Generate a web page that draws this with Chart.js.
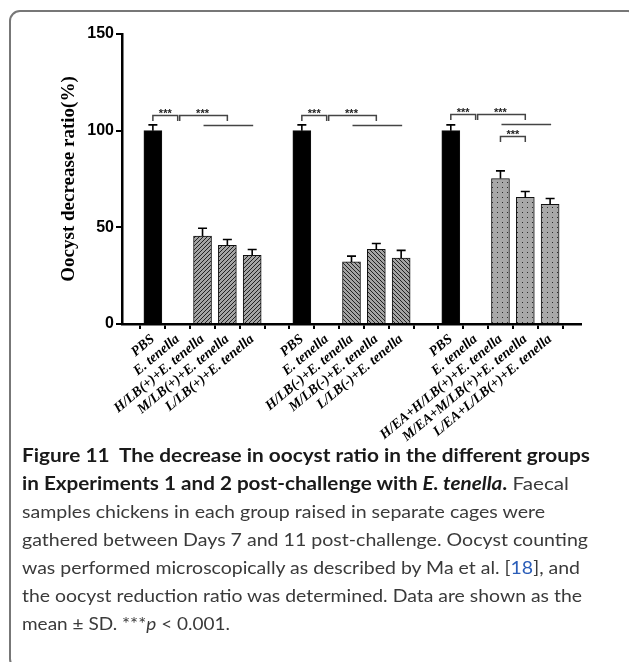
<!DOCTYPE html>
<html>
<head>
<meta charset="utf-8">
<script src="https://cdn.jsdelivr.net/npm/chart.js@4.4.1/dist/chart.umd.min.js"></script>
<style>
  html, body { margin: 0; padding: 0; background: #fff; width: 629px; height: 662px; overflow: hidden; }
  #frame { position: absolute; left: 9px; top: 10px; width: 630px; height: 660px; border: 2px solid #777; border-radius: 11px; box-sizing: border-box; }
  #c { position: absolute; left: 0; top: 0; }
  #caption { position: absolute; left: 22px; top: 441px; font-family: Lato, "Open Sans", sans-serif; font-size: 18px; line-height: 28px; color: #3a3a3a; white-space: nowrap; }
  #caption .ln { display: block; height: 28px; }
  #caption .ln > span { display: inline-block; transform-origin: 0 50%; }
  #caption b { color: #1a1a1a; font-weight: 700; }
  #caption .ref { color: #2a5db8; }
</style>
</head>
<body>
<div id="frame"></div>
<canvas id="c" width="629" height="452"></canvas>
<div id="caption">
<div class="ln" data-w="568"><span><b>Figure 11&nbsp; The decrease in oocyst ratio in the different groups</b></span></div>
<div class="ln" data-w="547"><span><b>in Experiments 1 and 2 post-challenge with <i>E. tenella</i>.</b> Faecal</span></div>
<div class="ln" data-w="523"><span>samples chickens in each group raised in separate cages were</span></div>
<div class="ln" data-w="566"><span>gathered between Days 7 and 11 post-challenge. Oocyst counting</span></div>
<div class="ln" data-w="558"><span>was performed microscopically as described by Ma et al. [<span class="ref">18</span>], and</span></div>
<div class="ln" data-w="560"><span>the oocyst reduction ratio was determined. Data are shown as the</span></div>
<div class="ln" data-w="208"><span>mean ± SD. ***<i>p</i> &lt; 0.001.</span></div>
</div>
<script>
// ---- data ----
const categories = ["PBS", "E. tenella", "H/LB(+)+E. tenella", "M/LB(+)+E. tenella", "L/LB(+)+E. tenella", "",
                    "PBS", "E. tenella", "H/LB(-)+E. tenella", "M/LB(-)+E. tenella", "L/LB(-)+E. tenella", "",
                    "PBS", "E. tenella", "H/EA+H/LB(+)+E. tenella", "M/EA+M/LB(+)+E. tenella", "L/EA+L/LB(+)+E. tenella"];
const means = [100, 0, 45.5, 40.7, 35.5, null, 100, 0, 32.1, 38.6, 34.1, null, 100, 0, 75.2, 65.5, 61.9];
const sds   = [3, 0, 4, 3, 3, null, 3, 0, 3, 3, 4, null, 3, 0, 4, 3, 3];
const fillKinds = ["solid", "none", "hatchA", "hatchA", "hatchA", "none",
                   "solid", "none", "hatchB", "hatchB", "hatchB", "none",
                   "solid", "none", "dots", "dots", "dots"];
const yTicks = [0, 50, 100, 150];
// significance brackets: [from category, to category, y value]
const brackets = [[0, 1, 108], [1, 3, 108], [6, 7, 108], [7, 9, 108], [12, 13, 108.5], [13, 15, 108.5], [14, 15, 97.4]];
// plain group lines: [from category, to category, y value]
const groupLines = [[2, 4, 103], [8, 10, 103], [14, 16, 103.5]];
const starText = "***";

// ---- patterns ----
function makePattern(kind) {
  const t = document.createElement('canvas');
  const s = kind === 'dots' ? 5 : 4;
  t.width = s; t.height = s;
  const g = t.getContext('2d');
  if (kind === 'dots') {
    g.fillStyle = '#a8a8a8'; g.fillRect(0, 0, s, s);
    g.fillStyle = '#2a2a2a'; g.fillRect(2, 2, 1, 1);
  } else {
    g.fillStyle = '#a4a4a4'; g.fillRect(0, 0, s, s);
    g.strokeStyle = '#222'; g.lineWidth = 1;
    g.beginPath();
    if (kind === 'hatchA') {
      g.moveTo(-1, s + 1); g.lineTo(s + 1, -1);
      g.moveTo(-1, 1); g.lineTo(1, -1);
      g.moveTo(s - 1, s + 1); g.lineTo(s + 1, s - 1);
    } else {
      g.moveTo(-1, -1); g.lineTo(s + 1, s + 1);
      g.moveTo(s - 1, -1); g.lineTo(s + 1, 1);
      g.moveTo(-1, s - 1); g.lineTo(1, s + 1);
    }
    g.stroke();
  }
  return document.getElementById('c').getContext('2d').createPattern(t, 'repeat');
}
const patterns = { hatchA: makePattern('hatchA'), hatchB: makePattern('hatchB'), dots: makePattern('dots') };
function fillFor(i) {
  const k = fillKinds[i];
  if (k === 'solid') return '#000';
  if (k === 'none') return 'rgba(0,0,0,0)';
  return patterns[k];
}

const barData = [];
means.forEach((m, i) => { if (m !== null) barData.push({ x: i, y: m }); });

// ---- annotation plugin ----
const annot = {
  id: 'annot',
  afterDatasetsDraw(chart) {
    const ctx = chart.ctx, xs = chart.scales.x, ys = chart.scales.y;
    ctx.save();
    // error bars
    ctx.strokeStyle = '#000'; ctx.lineWidth = 1.6;
    means.forEach((m, i) => {
      if (m === null || !sds[i]) return;
      const x = xs.getPixelForValue(i);
      const y0 = ys.getPixelForValue(m), y1 = ys.getPixelForValue(m + sds[i]);
      ctx.beginPath();
      ctx.moveTo(x, y0); ctx.lineTo(x, y1);
      ctx.moveTo(x - 4.5, y1); ctx.lineTo(x + 4.5, y1);
      ctx.stroke();
    });
    // brackets
    ctx.strokeStyle = '#444'; ctx.lineWidth = 1.5; ctx.fillStyle = '#222';
    ctx.font = 'bold 11px "Liberation Sans", Arial, sans-serif';
    ctx.textAlign = 'center'; ctx.textBaseline = 'alphabetic';
    brackets.forEach(([a, b, v]) => {
      const xa = xs.getPixelForValue(a) + (a % 6 === 1 ? 2 : 0);
      const xb = xs.getPixelForValue(b);
      const y = Math.round(ys.getPixelForValue(v)) + 0.5;
      ctx.beginPath();
      ctx.moveTo(xa, y + 5.5); ctx.lineTo(xa, y); ctx.lineTo(xb, y); ctx.lineTo(xb, y + 5.5);
      ctx.stroke();
      ctx.fillText(starText, (xs.getPixelForValue(a) + xb) / 2, y + 1);
    });
    groupLines.forEach(([a, b, v]) => {
      const y = Math.round(ys.getPixelForValue(v)) + 0.5;
      ctx.beginPath();
      ctx.moveTo(xs.getPixelForValue(a) + 1, y); ctx.lineTo(xs.getPixelForValue(b) + 1, y);
      ctx.stroke();
    });
    ctx.restore();
  }
};

new Chart(document.getElementById('c'), {
  type: 'bar',
  data: {
    datasets: [{
      data: barData,
      backgroundColor: (c) => c.raw ? fillFor(c.raw.x) : '#000',
      borderColor: '#111',
      borderWidth: 1,
      barThickness: 18
    }]
  },
  options: {
    responsive: false,
    animation: false,
    events: [],
    layout: { padding: { left: 58, top: 34, right: 48, bottom: 0 } },
    plugins: { legend: { display: false }, tooltip: { enabled: false } },
    scales: {
      x: {
        type: 'linear', min: -0.7, max: 16.7,
        afterBuildTicks: (s) => { s.ticks = categories.map((c, i) => ({ value: i })); },
        afterFit: (s) => { s.height = 128; },
        ticks: {
          autoSkip: false, minRotation: 40, maxRotation: 40, padding: 2,
          callback: (v) => categories[v],
          color: '#000',
          font: { family: '"Liberation Serif", "Times New Roman", serif', weight: 'bold', style: 'italic', size: 14 }
        },
        grid: { drawOnChartArea: false, drawTicks: true, tickLength: 5, color: '#000', lineWidth: 2 },
        border: { display: true, color: '#000', width: 2.5 }
      },
      y: {
        min: 0, max: 150,
        afterBuildTicks: (s) => { s.ticks = yTicks.map((v) => ({ value: v })); },
        afterFit: (s) => { s.width = 64; },
        ticks: {
          padding: 2, color: '#000',
          font: { family: '"Liberation Sans", Arial, sans-serif', weight: 'bold', size: 16 }
        },
        grid: { drawOnChartArea: false, drawTicks: true, tickLength: 6, color: '#000', lineWidth: 2 },
        border: { display: true, color: '#000', width: 2.5 },
        title: {
          display: true, text: 'Oocyst decrease ratio(%)', color: '#000', padding: 0,
          font: { family: '"Liberation Serif", "Times New Roman", serif', weight: 'bold', size: 19 }
        }
      }
    }
  },
  plugins: [annot]
});

// fit each caption line to the reference line length
document.querySelectorAll('#caption .ln').forEach((ln) => {
  const sp = ln.firstElementChild;
  const w = sp.getBoundingClientRect().width;
  sp.style.transform = 'scaleX(' + (parseFloat(ln.dataset.w) / w) + ')';
});
</script>
</body>
</html>
